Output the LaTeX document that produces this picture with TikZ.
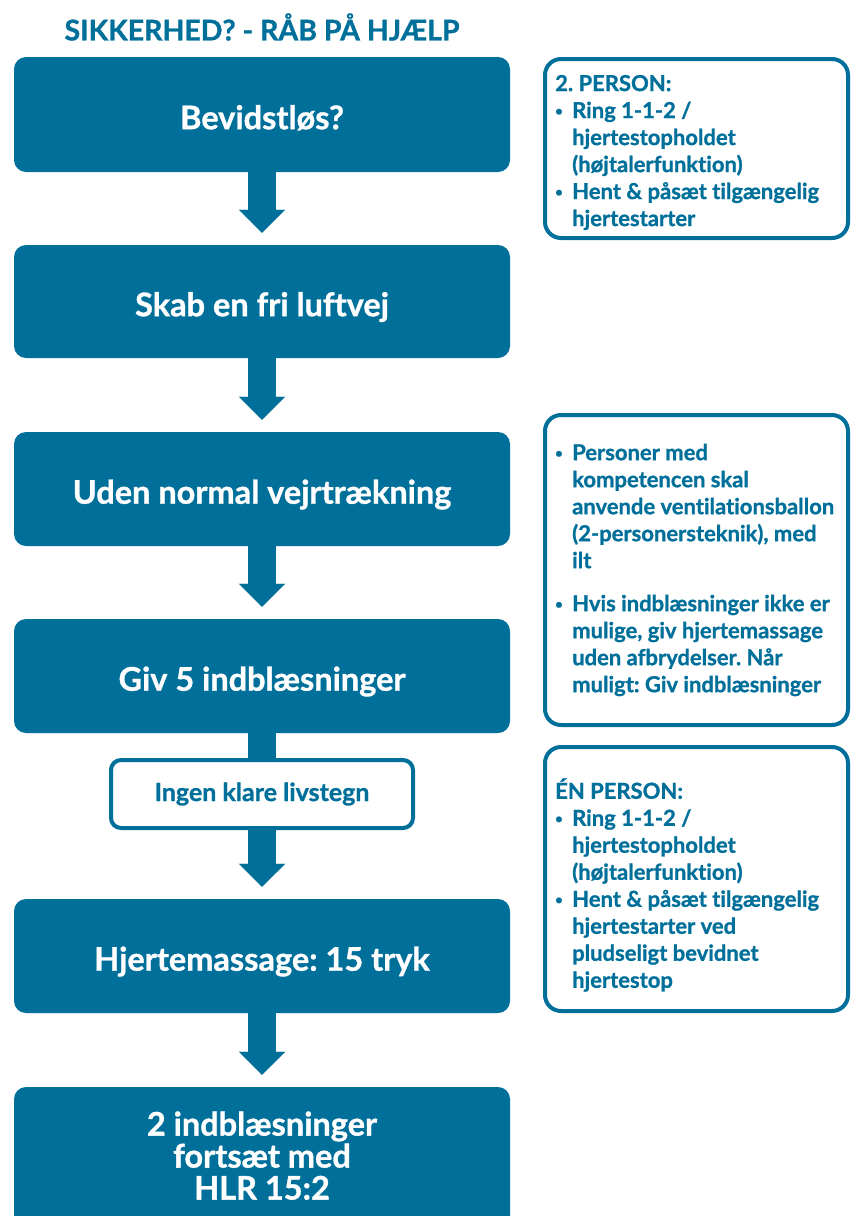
\documentclass[tikz,border=0pt]{standalone}
\usepackage{fontspec}
\setmainfont{Lato}[Ligatures=NoCommon, BoldFeatures={FakeBold=1}]
\usetikzlibrary{arrows.meta}
\definecolor{cprblue}{RGB}{0,112,155}
\tikzset{
  mainbox/.style={rectangle, rounded corners=12pt, fill=cprblue, text=white,
    minimum width=496pt, inner sep=0pt, text height=29.4pt, text depth=0pt,
    font=\fontsize{32.5}{32}\selectfont\bfseries, align=center},
  sidebox/.style={rectangle, rounded corners=16pt, draw=cprblue, line width=4pt, fill=white,
    minimum width=303pt, inner sep=0pt},
  sidetext/.style={anchor=west, inner sep=0pt, text=cprblue, align=left,
    font=\fontsize{22}{27}\selectfont\bfseries},
  notebox/.style={rectangle, rounded corners=10pt, draw=cprblue, line width=4pt, fill=white,
    text=cprblue, minimum width=302pt, minimum height=68pt, inner sep=0pt,
    font=\fontsize{25}{26}\selectfont\bfseries},
  flowarrow/.style={draw=cprblue, line width=28pt, shorten >=12pt,
    -{Triangle[width=46pt,length=23pt,line width=0.1pt,fill=cprblue]}},
  flowshaft/.style={draw=cprblue, line width=28pt},
}
\newcommand{\bul}{\makebox[17pt][l]{\raisebox{2.5pt}{\fontsize{13}{13}\selectfont•}}}
\newcommand{\ind}{\hspace*{17pt}}
\begin{document}
\frenchspacing
\begin{tikzpicture}[x=1pt,y=-1pt]
\useasboundingbox (0,0) rectangle (851,1216);
\clip (0,0) rectangle (851,1216);
\node[text=cprblue, font=\fontsize{28.5}{30}\selectfont\bfseries] (title) at (262,27) {SIKKERHED? - RÅB PÅ HJÆLP};

\node[mainbox, minimum height=115pt] (b1) at (262,114.5) {Bevidstløs?};
\node[mainbox, minimum height=113pt] (b2) at (262,301.5) {Skab en fri luftvej};
\node[mainbox, minimum height=114pt] (b3) at (262,489) {Uden normal vejrtrækning};
\node[mainbox, minimum height=114pt] (b4) at (262,676) {Giv 5 indblæsninger};
\node[mainbox, minimum height=114pt] (b5) at (262,956) {Hjertemassage: 15 tryk};
\node[mainbox, minimum height=143pt, text height={}, text depth=6pt] (b6) at (262,1158.5) {2 indblæsninger\\fortsæt med\\HLR 15:2};

\draw[flowarrow] (b1.south) -- (b2.north);
\draw[flowarrow] (b2.south) -- (b3.north);
\draw[flowarrow] (b3.south) -- (b4.north);
\node[notebox] (ing) at (262,794) {Ingen klare livstegn};
\draw[flowshaft] (b4.south) -- (ing.north);
\draw[flowarrow] (ing.south) -- (b5.north);
\draw[flowarrow] (b5.south) -- (b6.north);

\node[sidebox, minimum height=179pt] (s1) at (696.5,148.5) {};
\node[sidetext] (s1t) at ([xshift=12pt,yshift=-4pt]s1.west) {%
2. PERSON:\\
\bul Ring 1-1-2 /\\\ind hjertestopholdet\\\ind (højtalerfunktion)\\
\bul Hent \& påsæt tilgængelig\\\ind hjertestarter};

\node[sidebox, minimum height=310pt] (s2) at (696.5,570) {};
\node[sidetext] (s2t) at ([xshift=12pt,yshift=0pt]s2.west) {%
\bul Personer med\\\ind kompetencen skal\\\ind anvende ventilationsballon\\\ind (2-personersteknik), med\\\ind ilt\\[16pt]
\bul Hvis indblæsninger ikke er\\\ind mulige, giv hjertemassage\\\ind uden afbrydelser. Når\\\ind muligt: Giv indblæsninger};

\node[sidebox, minimum height=264pt] (s3) at (696.5,879) {};
\node[sidetext] (s3t) at ([xshift=12pt,yshift=-6pt]s3.west) {%
ÉN PERSON:\\
\bul Ring 1-1-2 /\\\ind hjertestopholdet\\\ind (højtalerfunktion)\\
\bul Hent \& påsæt tilgængelig\\\ind hjertestarter ved\\\ind pludseligt bevidnet\\\ind hjertestop};
\end{tikzpicture}
\end{document}
